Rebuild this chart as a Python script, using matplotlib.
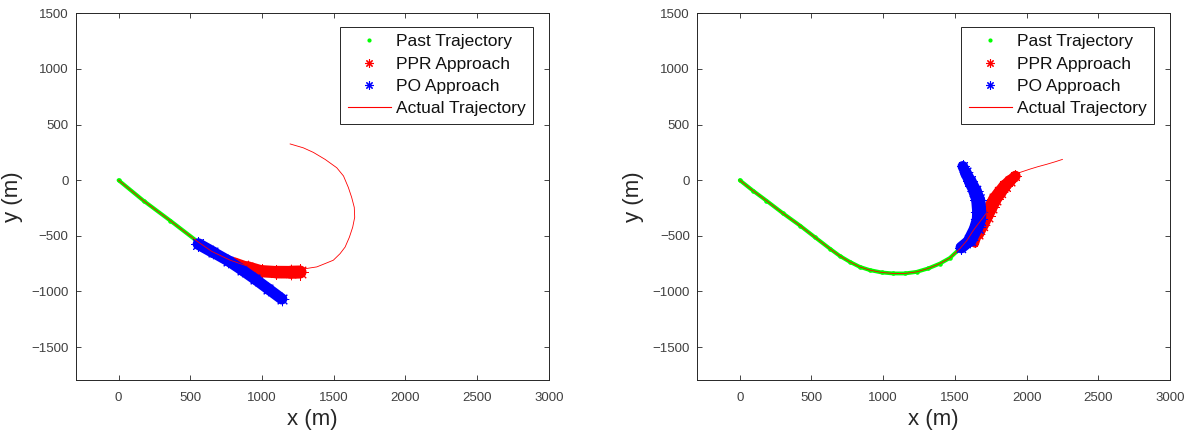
import matplotlib.pyplot as plt
from matplotlib.lines import Line2D

plt.rcParams['font.family'] = ['Liberation Sans', 'DejaVu Sans']

# ---- run 1: straight approach, then a hard turn ----
past_l_x = [0, 174, 360, 546]
past_l_y = [0, -184, -363, -547]
actual_l_x = [0, 174, 360, 546, 650, 778, 940, 1100, 1277, 1382, 1440, 1497, 1544, 1579, 1609, 1632,
              1646, 1643, 1625, 1602, 1568, 1521, 1440, 1358, 1288, 1196]
actual_l_y = [0, -184, -363, -547, -640, -719, -790, -805, -800, -779, -749, -719, -660, -601, -512, -422,
              -333, -244, -155, -66, 38, 112, 187, 250, 291, 326]
ppr_l_x = [590, 650, 733, 800, 900, 1000, 1100, 1200, 1265]
ppr_l_y = [-590, -635, -698, -735, -780, -818, -826, -827, -825]
ppr_l_spread = [25, 40, 60, 80, 100, 108, 112, 115, 120]
po_l_x = [557, 660, 766, 860, 952, 1045, 1138]
po_l_y = [-574, -648, -725, -806, -889, -978, -1067]
po_l_spread = [110, 100, 100, 100, 100, 100, 100]

# ---- run 2: long curve, then a climb to the right ----
past_r_x = [0, 93, 186, 302, 419, 523, 628, 698, 768, 837, 907, 989, 1070, 1151, 1233, 1314, 1396, 1465, 1535]
past_r_y = [0, -95, -184, -298, -407, -511, -615, -681, -734, -779, -808, -829, -838, -838, -824, -793, -749,
            -699, -615]
actual_r_x = past_r_x + [1585, 1628, 1700, 1780, 1860, 1954, 2024, 2080, 2140, 2200, 2250]
actual_r_y = past_r_y + [-540, -452, -330, -190, -60, 70, 100, 122, 143, 166, 187]
ppr_r_x = [1640, 1663, 1692, 1722, 1750, 1780, 1815, 1849, 1885, 1922]
ppr_r_y = [-570, -481, -400, -318, -245, -169, -108, -51, -5, 38]
ppr_r_spread = [45, 100, 115, 120, 120, 120, 115, 110, 100, 90]
po_r_x = [1545, 1605, 1651, 1668, 1670, 1663, 1640, 1605, 1575, 1555]
po_r_y = [-605, -541, -422, -350, -289, -180, -95, -6, 70, 125]
po_r_spread = [95, 115, 125, 128, 128, 125, 118, 110, 100, 90]

xticks = [0, 500, 1000, 1500, 2000, 2500, 3000]
yticks = [-1500, -1000, -500, 0, 500, 1000, 1500]
XLIM = (-300, 3000)
YLIM = (-1800, 1500)

ASTER = (8, 2, 0)
TXT = '#262626'


def draw_band(ax, x, y, spread, color, label):
    # spread is in metres; turn it into a line width via the y scale
    pt_per_m = ax.bbox.height * 72 / ax.figure.dpi / (YLIM[1] - YLIM[0])
    for i in range(len(x) - 1):
        w = 0.5 * (spread[i] + spread[i + 1]) * pt_per_m
        ax.plot(x[i:i + 2], y[i:i + 2], color=color, lw=w,
                solid_capstyle='round')
    for xi, yi, s in zip(x, y, spread):
        ax.plot(xi, yi, ls='none', marker=ASTER, color=color,
                ms=s * pt_per_m * 1.2, mew=0.7)
    return Line2D([], [], ls='none', marker=ASTER, color=color, ms=6,
                  mew=0.8, label=label)


def panel(ax, px, py, ax_x, ax_y, rx, ry, rs, bx, by, bs):
    ax.plot(px, py, color=(0, 1, 0), lw=2.8, solid_capstyle='round')
    ax.plot(px, py, ls='none', marker='.', color=(0, 1, 0), ms=4.5)
    h_ppr = draw_band(ax, rx, ry, rs, (1, 0, 0), 'PPR Approach')
    h_po = draw_band(ax, bx, by, bs, (0, 0, 1), 'PO Approach')
    ax.plot(ax_x, ax_y, color=(1, 0, 0), lw=0.6)

    h_past = Line2D([], [], ls='none', marker='.', color=(0, 1, 0), ms=4,
                    label='Past Trajectory')
    h_act = Line2D([], [], color=(1, 0, 0), lw=0.8, label='Actual Trajectory')

    ax.set_xlim(*XLIM)
    ax.set_ylim(*YLIM)
    ax.set_xticks(xticks)
    ax.set_yticks(yticks)
    ax.tick_params(direction='in', length=3.5, width=0.6, top=True,
                   right=True, labelsize=9.5, labelcolor='#404040',
                   color=TXT)
    ax.tick_params(axis='x', pad=8)
    ax.tick_params(axis='y', pad=5)
    for sp in ax.spines.values():
        sp.set_linewidth(0.7)
        sp.set_color(TXT)
    ax.set_xlabel('x (m)', fontsize=16, color=TXT, labelpad=4)
    ax.set_ylabel('y (m)', fontsize=16, color=TXT, labelpad=6)

    leg = ax.legend(handles=[h_past, h_ppr, h_po, h_act], loc='upper right',
                    bbox_to_anchor=(0.9668, 0.9635), borderaxespad=0,
                    fontsize=12.5, fancybox=False, framealpha=1,
                    handlelength=2.5, handletextpad=0.3, labelspacing=0.42,
                    borderpad=0.42)
    leg.get_frame().set_edgecolor(TXT)
    leg.get_frame().set_linewidth(0.7)
    for t in leg.get_texts():
        t.set_color('#111111')


fig = plt.figure(figsize=(11.89, 4.41), dpi=100)
ax1 = fig.add_axes([0.0635, 0.1372, 0.3982, 0.8326])
ax2 = fig.add_axes([0.586, 0.1372, 0.398, 0.8326])

panel(ax1, past_l_x, past_l_y, actual_l_x, actual_l_y,
      ppr_l_x, ppr_l_y, ppr_l_spread, po_l_x, po_l_y, po_l_spread)
panel(ax2, past_r_x, past_r_y, actual_r_x, actual_r_y,
      ppr_r_x, ppr_r_y, ppr_r_spread, po_r_x, po_r_y, po_r_spread)

fig.savefig('out.png', dpi=100)
